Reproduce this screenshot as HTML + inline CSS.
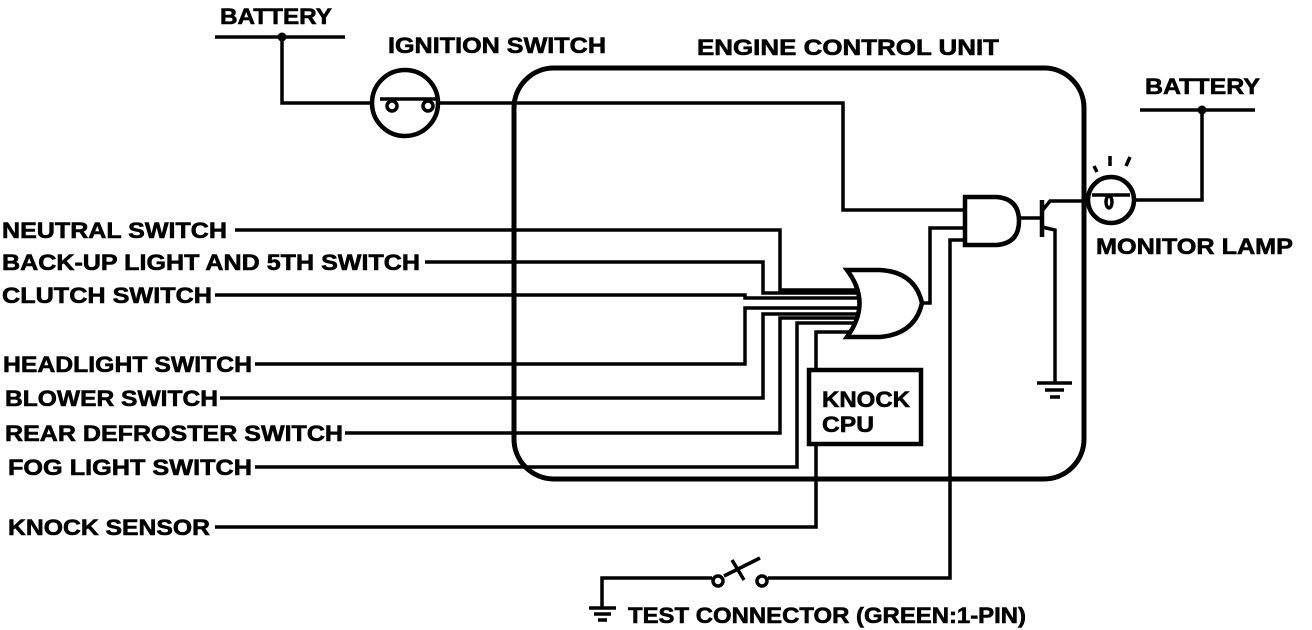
<!DOCTYPE html>
<html><head><meta charset="utf-8"><style>
html,body{margin:0;padding:0;background:#fff;width:1312px;height:630px;overflow:hidden}
text{font-family:"Liberation Sans",Arial,sans-serif;font-weight:bold;font-size:22px;fill:#000;stroke:#000;stroke-width:0.6}
</style></head><body>
<svg width="1312" height="630" viewBox="0 0 1312 630" xmlns="http://www.w3.org/2000/svg">
<g fill="none" stroke="#000" stroke-width="3.5" stroke-linejoin="miter">
<rect x="514" y="68" width="570" height="411" rx="40" stroke-width="5"/>
<line x1="215" y1="37" x2="345" y2="37"/>
<polyline points="282,37 282,103 843,103 843,210 965,210"/>
<circle cx="405" cy="103" r="33" fill="#fff" stroke-width="4.5"/>
<line x1="380" y1="99" x2="438" y2="99"/>
<circle cx="392" cy="106" r="5" fill="#fff"/>
<circle cx="428" cy="106" r="5" fill="#fff"/>
<polyline points="235,230 780,230 780,290 860,290"/>
<polyline points="425,262 763,262 763,293 860,293"/>
<polyline points="215,295 745,295 745,298 862,298"/>
<polyline points="255,364 745,364 745,308 862,308"/>
<polyline points="220,398 763,398 763,314 860,314"/>
<polyline points="345,433 780,433 780,318 858,318"/>
<polyline points="255,467 797,467 797,323 855,323"/>
<polyline points="215,527 816,527 816,443"/>
<polyline points="816,371 816,332 850,332"/>
<path d="M847,270 L880,270 Q915,272 922,303 Q915,334 880,337 L847,337 Q872,303 847,270 Z" fill="#fff" stroke-width="4.5"/>
<polyline points="922,303 930,303 930,228 965,228"/>
<rect x="809" y="370" width="112" height="74" stroke-width="4.5" fill="#fff"/>
<path d="M965,197 L997,197 Q1019,199 1019,221 Q1019,243 997,245 L965,245 Z" fill="#fff" stroke-width="4.5"/>
<polyline points="965,240 950,240 950,578 768,578"/>
<line x1="1019" y1="218" x2="1042" y2="218"/>
<line x1="1042" y1="200" x2="1042" y2="237" stroke-width="4.5"/>
<polyline points="1042,211 1050,201 1088,201"/>
<polyline points="1042,227 1055,230 1055,383"/>
<line x1="1037" y1="383" x2="1072" y2="383"/>
<line x1="1045" y1="390" x2="1064" y2="390"/>
<line x1="1050" y1="397" x2="1060" y2="397"/>
<circle cx="1111" cy="200" r="23" stroke-width="4.5" fill="#fff"/>
<line x1="1092" y1="195" x2="1130" y2="195"/>
<ellipse cx="1109" cy="202" rx="3" ry="6"/>
<polyline points="1134,200 1202,200 1202,110"/>
<line x1="1140" y1="110" x2="1255" y2="110"/>
<line x1="1094" y1="166" x2="1097" y2="172"/>
<line x1="1110" y1="156" x2="1110" y2="166"/>
<line x1="1130" y1="157" x2="1126" y2="166"/>
<polyline points="712,578 602,578 602,608"/>
<line x1="589" y1="608" x2="616" y2="608"/>
<line x1="594" y1="614" x2="611" y2="614"/>
<line x1="598" y1="620" x2="607" y2="620"/>
<circle cx="718" cy="581" r="5"/>
<circle cx="762" cy="581" r="5"/>
<line x1="724" y1="576" x2="760" y2="558"/>
<line x1="732" y1="560" x2="744" y2="580"/>
</g>
<g fill="#000">
<circle cx="282" cy="37" r="4.5"/>
<circle cx="1202" cy="110" r="4.5"/>
</g>
<text x="220" y="24" textLength="112" lengthAdjust="spacingAndGlyphs">BATTERY</text>
<text x="388" y="53" textLength="218" lengthAdjust="spacingAndGlyphs">IGNITION SWITCH</text>
<text x="697" y="55" textLength="302" lengthAdjust="spacingAndGlyphs">ENGINE CONTROL UNIT</text>
<text x="1145" y="94" textLength="115" lengthAdjust="spacingAndGlyphs">BATTERY</text>
<text x="1096" y="254" textLength="197" lengthAdjust="spacingAndGlyphs">MONITOR LAMP</text>
<text x="822" y="407" textLength="88" lengthAdjust="spacingAndGlyphs">KNOCK</text>
<text x="822" y="432" textLength="52" lengthAdjust="spacingAndGlyphs">CPU</text>
<text x="2" y="238" textLength="225" lengthAdjust="spacingAndGlyphs">NEUTRAL SWITCH</text>
<text x="2" y="270" textLength="418" lengthAdjust="spacingAndGlyphs">BACK-UP LIGHT AND 5TH SWITCH</text>
<text x="2" y="303" textLength="210" lengthAdjust="spacingAndGlyphs">CLUTCH SWITCH</text>
<text x="3" y="372" textLength="249" lengthAdjust="spacingAndGlyphs">HEADLIGHT SWITCH</text>
<text x="5" y="406" textLength="213" lengthAdjust="spacingAndGlyphs">BLOWER SWITCH</text>
<text x="5" y="441" textLength="338" lengthAdjust="spacingAndGlyphs">REAR DEFROSTER SWITCH</text>
<text x="8" y="475" textLength="244" lengthAdjust="spacingAndGlyphs">FOG LIGHT SWITCH</text>
<text x="8" y="535" textLength="202" lengthAdjust="spacingAndGlyphs">KNOCK SENSOR</text>
<text x="628" y="623" textLength="398" lengthAdjust="spacingAndGlyphs">TEST CONNECTOR (GREEN:1-PIN)</text>
</svg>
</body></html>
